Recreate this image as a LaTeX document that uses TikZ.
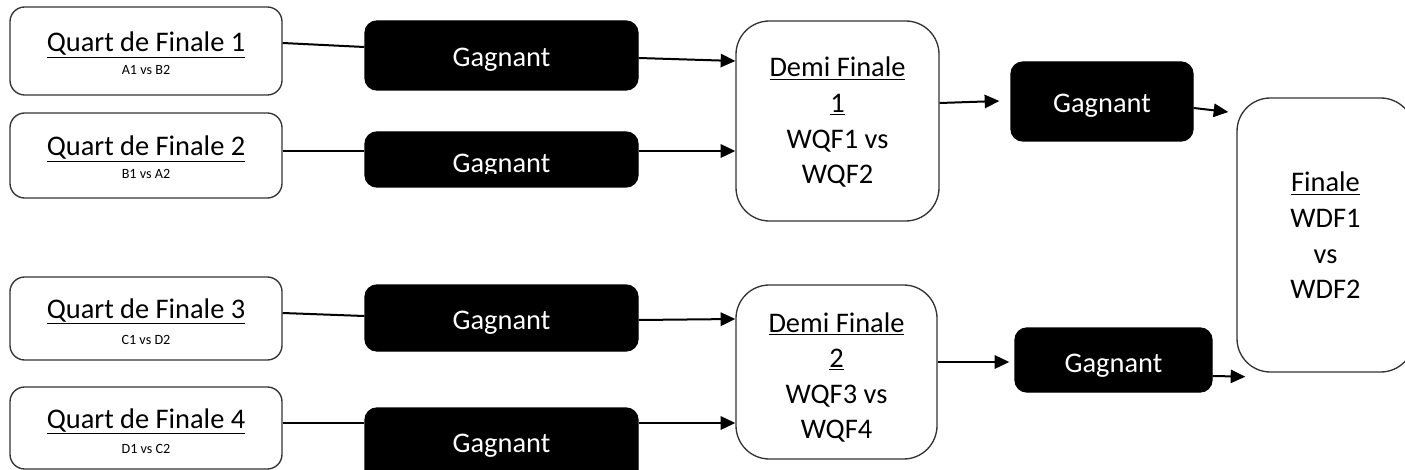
\documentclass[tikz,border=0pt]{standalone}
\usepackage{fontspec}
\setmainfont{Carlito}
\usetikzlibrary{fit,calc,arrows.meta}
\begin{document}
\begin{tikzpicture}[x=0.75pt,y=-0.75pt,
  wbox/.style={draw=black!80,line width=1pt,fill=white,inner sep=0pt},
  qbox/.style={wbox,rounded corners=11pt},
  dbox/.style={wbox,rounded corners=25pt},
  gbox/.style={draw=black,fill=black,line width=1pt,rounded corners=9pt,inner sep=0pt},
  big/.style={font=\fontsize{21.3}{26.7}\selectfont,anchor=base,inner sep=0pt},
  small/.style={font=\fontsize{10.6}{13}\selectfont,anchor=base,inner sep=0pt},
  gtext/.style={big,text=white},
  conn/.style={line width=1.5pt,black},
  arr/.style={conn,-{Triangle[length=11pt,width=10pt]}}]
\useasboundingbox (0,0) rectangle (1405,470);
% boxes
\node[qbox,fit={(10,7) (282,95)}] (qf1) {};
\node[qbox,fit={(10,113) (282,198)}] (qf2) {};
\node[qbox,fit={(10,277) (282,360)}] (qf3) {};
\node[qbox,fit={(10,387) (282,469)}] (qf4) {};
\node[gbox,fit={(365,21) (638,90)}] (g1) {};
\node[gbox,fit={(365,132) (638,187)}] (g2) {};
\node[gbox,fit={(365,285) (638,351)}] (g3) {};
\node[gbox,fit={(365,408) (638,485)}] (g4) {};
\node[dbox,fit={(736,21) (939,221)}] (df1) {};
\node[dbox,fit={(736,285) (937,459)}] (df2) {};
\node[gbox,fit={(1011,62) (1193,141)}] (gs1) {};
\node[gbox,fit={(1015,328) (1212,392)}] (gs2) {};
\node[dbox,fit={(1237,98) (1414,372)}] (fin) {};
% texts
\node[big] (qf1t) at ($(qf1.center)+(0,1)$) {\underline{Quart de Finale 1}};
\node[small] (qf1s) at ($(qf1.center)+(0,24)$) {A1 vs B2};
\node[big] (qf2t) at ($(qf2.center)+(0,0.5)$) {\underline{Quart de Finale 2}};
\node[small] (qf2s) at ($(qf2.center)+(0,23.5)$) {B1 vs A2};
\node[big] (qf3t) at ($(qf3.center)+(0,-0.5)$) {\underline{Quart de Finale 3}};
\node[small] (qf3s) at ($(qf3.center)+(0,25.5)$) {C1 vs D2};
\node[big] (qf4t) at ($(qf4.center)+(0,0)$) {\underline{Quart de Finale 4}};
\node[small] (qf4s) at ($(qf4.center)+(0,25)$) {D1 vs C2};
\node[gtext] (g1t) at ($(g1.center)+(0,11.5)$) {Gagnant};
\begin{scope}
\clip (g2.north west) rectangle ($(g2.south east)+(0,-14)$);
\node[gtext] (g2t) at ($(g2.center)+(0,13.5)$) {Gagnant};
\end{scope}
\node[gtext] (g3t) at ($(g3.center)+(0,11)$) {Gagnant};
\node[gtext] (g4t) at ($(g4.center)+(0,5.5)$) {Gagnant};
\node[gtext] (gs1t) at ($(gs1.center)+(0,11.5)$) {Gagnant};
\node[gtext] (gs2t) at ($(gs2.center)+(0,12)$) {Gagnant};
\node[big] (df1t) at ($(df1.center)+(0,-44)$) {\begin{tabular}[t]{@{}c@{}}\underline{Demi Finale}\\ \underline{1}\\ WQF1 vs\\ WQF2\end{tabular}};
\node[big] (df2t) at ($(df2.center)+(0,-40)$) {\begin{tabular}[t]{@{}c@{}}\underline{Demi Finale}\\ \underline{2}\\ WQF3 vs\\ WQF4\end{tabular}};
\node[big] (fint) at ($(fin.center)+(0,-43)$) {\begin{tabular}[t]{@{}c@{}}\underline{Finale}\\ WDF1\\ vs\\ WDF2\end{tabular}};
% connectors
\draw[conn] ($(qf1.east)+(0,-8)$) -- ($(g1.west)+(0,-8.5)$);
\draw[arr] ($(g1.east)+(0,2.5)$) -- ($(df1.west)+(0,-60)$);
\draw[conn] ($(qf2.east)+(0,-4.5)$) -- ($(g2.west)+(0,-8.5)$);
\draw[arr] ($(g2.east)+(0,-8.5)$) -- ($(df1.west)+(0,30)$);
\draw[conn] ($(qf3.east)+(0,-5.5)$) -- ($(g3.west)+(0,-2)$);
\draw[arr] ($(g3.east)+(0,2)$) -- ($(df2.west)+(0,-53)$);
\draw[conn] ($(qf4.east)+(0,-5)$) -- ($(g4.west)+(0,-23.5)$);
\draw[arr] ($(g4.east)+(0,-23.5)$) -- ($(df2.west)+(0,51)$);
\draw[arr] ($(df1.east)+(0,-18)$) -- ($(gs1.west)+(-11,-0.5)$);
\draw[arr] ($(gs1.east)+(0,6.5)$) -- ($(fin.west)+(-8,-123)$);
\draw[arr] ($(df2.east)+(0,-10)$) -- ($(gs2.west)+(-5,2)$);
\draw[arr] ($(gs2.east)+(0,16)$) -- ($(fin.south west)+(9,4)$);
\end{tikzpicture}
\end{document}
